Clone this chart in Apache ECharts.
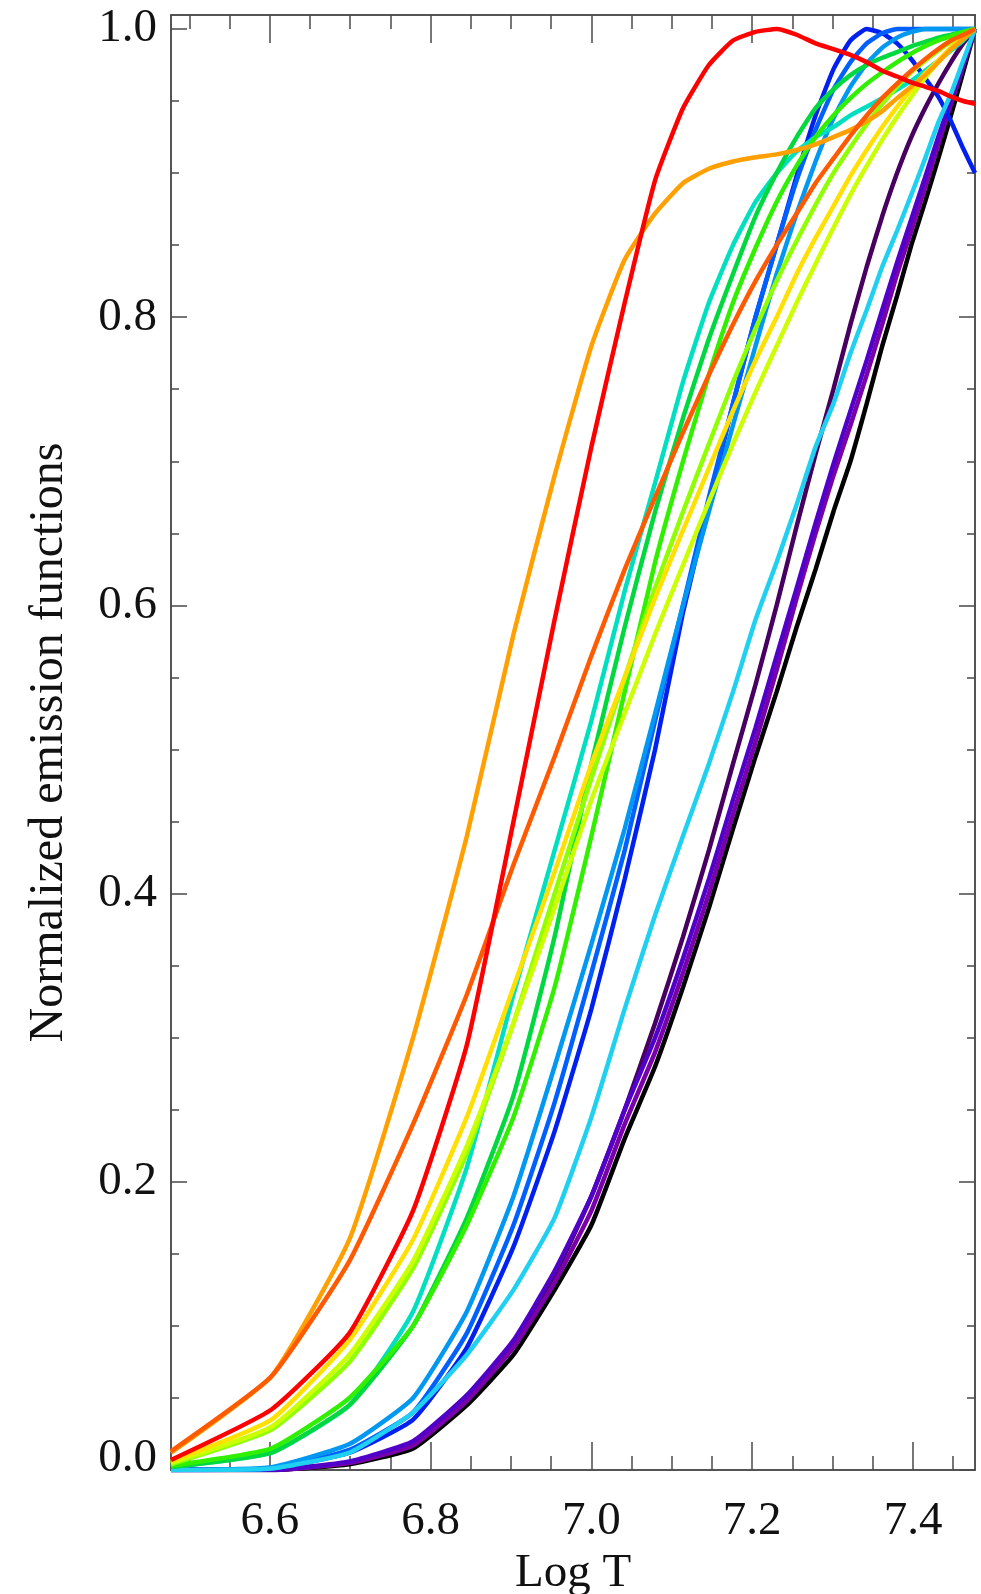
<!DOCTYPE html>
<html><head><meta charset="utf-8">
<script src="https://cdn.jsdelivr.net/npm/echarts@6/dist/echarts.min.js"></script>
<style>html,body{margin:0;padding:0;background:#fff}#c{width:981px;height:1594px}</style>
</head><body><div id="c"></div>
<script>
// x values: log T for T = 3..30 MK
const logT = [6.4771, 6.6021, 6.6990, 6.7782, 6.8451, 6.9031, 6.9542, 7.0000, 7.0414, 7.0792,
  7.1139, 7.1461, 7.1761, 7.2041, 7.2304, 7.2553, 7.2788, 7.3010, 7.3222, 7.3424,
  7.3617, 7.3802, 7.3979, 7.4150, 7.4314, 7.4472, 7.4624, 7.4771];

const xMajorTicks = [6.6, 6.8, 7.0, 7.2, 7.4];
const xMinorTicks = [6.5, 6.55, 6.65, 6.7, 6.75, 6.85, 6.9, 6.95, 7.05, 7.1, 7.15, 7.25, 7.3, 7.35, 7.45];
const yMajorTicks = [0, 0.2, 0.4, 0.6, 0.8, 1.0];
const yMinorTicks = [0.05, 0.1, 0.15, 0.25, 0.3, 0.35, 0.45, 0.5, 0.55, 0.65, 0.7, 0.75, 0.85, 0.9, 0.95];

const black      = [0, 0, 0.004, 0.015, 0.045, 0.08, 0.125, 0.17, 0.23, 0.28, 0.335, 0.39, 0.445, 0.495, 0.54, 0.585, 0.625, 0.665, 0.70, 0.74, 0.78, 0.815, 0.85, 0.88, 0.91, 0.94, 0.97, 1.0];
const darkPurple = [0, 0, 0.005, 0.018, 0.05, 0.088, 0.135, 0.19, 0.25, 0.31, 0.37, 0.43, 0.49, 0.545, 0.60, 0.655, 0.705, 0.75, 0.795, 0.835, 0.87, 0.90, 0.925, 0.945, 0.962, 0.977, 0.99, 1.0];
const purple     = [0, 0, 0.005, 0.017, 0.048, 0.085, 0.13, 0.18, 0.24, 0.29, 0.345, 0.40, 0.455, 0.505, 0.555, 0.605, 0.65, 0.69, 0.725, 0.76, 0.795, 0.83, 0.86, 0.89, 0.92, 0.948, 0.974, 1.0];
const violet     = [0, 0, 0.006, 0.02, 0.052, 0.09, 0.138, 0.19, 0.25, 0.30, 0.355, 0.41, 0.465, 0.515, 0.565, 0.612, 0.657, 0.698, 0.735, 0.77, 0.805, 0.838, 0.868, 0.897, 0.925, 0.951, 0.976, 1.0];
const blue       = [0, 0.001, 0.012, 0.035, 0.085, 0.155, 0.235, 0.32, 0.41, 0.50, 0.595, 0.67, 0.74, 0.80, 0.85, 0.898, 0.94, 0.972, 0.992, 1.0, 0.997, 0.99, 0.979, 0.966, 0.953, 0.936, 0.917, 0.9];
const dodger     = [0, 0.001, 0.014, 0.04, 0.095, 0.17, 0.255, 0.345, 0.43, 0.52, 0.60, 0.675, 0.74, 0.80, 0.85, 0.895, 0.93, 0.958, 0.977, 0.99, 0.997, 1.0, 1.0, 1.0, 1.0, 1.0, 1.0, 1.0];
const lightBlue  = [0, 0.002, 0.018, 0.05, 0.11, 0.19, 0.28, 0.365, 0.445, 0.525, 0.60, 0.665, 0.725, 0.78, 0.83, 0.872, 0.908, 0.938, 0.96, 0.976, 0.987, 0.994, 0.998, 1.0, 1.0, 1.0, 1.0, 1.0];
const cyan       = [0, 0.001, 0.012, 0.04, 0.08, 0.125, 0.175, 0.245, 0.32, 0.385, 0.44, 0.49, 0.54, 0.59, 0.63, 0.67, 0.71, 0.74, 0.775, 0.805, 0.835, 0.86, 0.885, 0.91, 0.935, 0.955, 0.978, 1.0];
const turquoise  = [0.002, 0.012, 0.045, 0.11, 0.21, 0.33, 0.43, 0.52, 0.61, 0.685, 0.755, 0.81, 0.85, 0.88, 0.90, 0.915, 0.925, 0.932, 0.94, 0.946, 0.952, 0.958, 0.964, 0.971, 0.978, 0.985, 0.992, 1.0];
const green      = [0.002, 0.012, 0.045, 0.10, 0.175, 0.26, 0.37, 0.49, 0.585, 0.665, 0.73, 0.785, 0.83, 0.87, 0.90, 0.925, 0.945, 0.958, 0.968, 0.975, 0.98, 0.984, 0.988, 0.991, 0.994, 0.996, 0.998, 1.0];
const green2     = [0.003, 0.015, 0.05, 0.10, 0.17, 0.245, 0.335, 0.44, 0.54, 0.63, 0.70, 0.76, 0.81, 0.848, 0.88, 0.905, 0.925, 0.94, 0.952, 0.962, 0.97, 0.977, 0.983, 0.988, 0.992, 0.995, 0.998, 1.0];
const lightGreen = [0.004, 0.028, 0.075, 0.14, 0.22, 0.31, 0.40, 0.48, 0.55, 0.612, 0.665, 0.712, 0.755, 0.792, 0.825, 0.853, 0.878, 0.90, 0.918, 0.934, 0.948, 0.96, 0.97, 0.978, 0.985, 0.991, 0.996, 1.0];
const yellowGreen= [0.005, 0.03, 0.08, 0.145, 0.225, 0.31, 0.39, 0.465, 0.525, 0.58, 0.628, 0.672, 0.712, 0.748, 0.78, 0.81, 0.837, 0.862, 0.885, 0.905, 0.923, 0.939, 0.953, 0.966, 0.977, 0.986, 0.994, 1.0];
const yellow     = [0.006, 0.035, 0.09, 0.16, 0.245, 0.335, 0.415, 0.49, 0.55, 0.605, 0.652, 0.695, 0.735, 0.77, 0.80, 0.83, 0.855, 0.877, 0.898, 0.916, 0.932, 0.946, 0.958, 0.969, 0.978, 0.987, 0.994, 1.0];
const orange     = [0.012, 0.065, 0.16, 0.30, 0.44, 0.58, 0.69, 0.78, 0.84, 0.872, 0.893, 0.903, 0.908, 0.911, 0.913, 0.916, 0.92, 0.925, 0.93, 0.936, 0.943, 0.952, 0.96, 0.968, 0.977, 0.986, 0.993, 1.0];
const orangeRed  = [0.013, 0.065, 0.145, 0.24, 0.33, 0.42, 0.495, 0.565, 0.625, 0.675, 0.72, 0.76, 0.795, 0.825, 0.85, 0.872, 0.893, 0.91, 0.926, 0.94, 0.952, 0.962, 0.971, 0.979, 0.986, 0.992, 0.996, 1.0];
const red        = [0.007, 0.042, 0.095, 0.18, 0.295, 0.45, 0.59, 0.71, 0.81, 0.895, 0.945, 0.975, 0.992, 0.998, 1.0, 0.996, 0.99, 0.986, 0.982, 0.977, 0.971, 0.967, 0.963, 0.96, 0.957, 0.953, 0.95, 0.948];

const curves = [
  ['black', black, '#000000'],
  ['darkPurple', darkPurple, '#480060'],
  ['purple', purple, '#7a00a8'],
  ['violet', violet, '#5000c8'],
  ['blue', blue, '#0020f0'],
  ['dodger', dodger, '#0060ff'],
  ['lightBlue', lightBlue, '#0098f0'],
  ['cyan', cyan, '#20d0f0'],
  ['turquoise', turquoise, '#00e0c0'],
  ['green', green, '#00d840'],
  ['green2', green2, '#30f000'],
  ['lightGreen', lightGreen, '#90ff00'],
  ['yellowGreen', yellowGreen, '#ccff00'],
  ['yellow', yellow, '#ffe000'],
  ['orange', orange, '#ffa000'],
  ['orangeRed', orangeRed, '#ff5a00'],
  ['red', red, '#ff0000']
];

const FONT = '"Liberation Serif", "Times New Roman", serif';
const XMIN = 6.4771, XMAX = 7.4771, YMIN = 0, YMAX = 1.0097;
const axisColor = '#4a4a4a';
const ls = {color: axisColor, width: 1.5};

function xa(pos, ticks, len, withLabels) {
  const a = {
    type: 'value', min: XMIN, max: XMAX, position: pos,
    axisLine: {show: true, onZero: false, lineStyle: ls},
    axisTick: {show: true, inside: true, length: len, customValues: ticks, lineStyle: ls},
    axisLabel: {show: false},
    splitLine: {show: false}
  };
  if (withLabels) {
    a.axisLabel = {show: true, customValues: ticks, formatter: v => v.toFixed(1),
      fontFamily: FONT, fontSize: 47, color: '#111', margin: 28};
    a.name = 'Log T'; a.nameLocation = 'middle'; a.nameGap = 77;
    a.nameTextStyle = {fontFamily: FONT, fontSize: 47, color: '#111'};
  }
  return a;
}
function ya(pos, ticks, len, labelTicks, mn, mx, showLine) {
  const a = {
    type: 'value', min: mn, max: mx, position: pos,
    axisLine: {show: showLine, onZero: false, lineStyle: ls},
    axisTick: {show: ticks !== null, inside: true, length: len, customValues: ticks || [], lineStyle: ls},
    axisLabel: {show: false},
    splitLine: {show: false}
  };
  if (labelTicks) {
    a.axisLabel = {show: true, customValues: labelTicks, formatter: v => v.toFixed(1),
      fontFamily: FONT, fontSize: 47, color: '#111', margin: 14};
  }
  return a;
}

const yLabelMajor = yMajorTicks.filter(v => v > 0);
const yAxes = [
  ya('left', yMajorTicks, 16, yLabelMajor, YMIN, YMAX, true),
  ya('left', yMinorTicks, 8, null, YMIN, YMAX, true),
  ya('right', yMajorTicks, 16, null, YMIN, YMAX, true),
  ya('right', yMinorTicks, 8, null, YMIN, YMAX, true),
  // label for 0.0 drawn slightly above the bottom axis, as in the original
  ya('left', null, 0, [0], YMIN - 0.008, YMAX - 0.008, false)
];
yAxes[0].name = 'Normalized emission functions';
yAxes[0].nameLocation = 'middle';
yAxes[0].nameGap = 98;
yAxes[0].nameRotate = 90;
yAxes[0].nameTextStyle = {fontFamily: FONT, fontSize: 48, color: '#111'};

const option = {
  animation: false,
  backgroundColor: '#ffffff',
  grid: {left: 171, right: 6, top: 15, bottom: 124, containLabel: false, outerBoundsMode: 'none'},
  xAxis: [
    xa('bottom', xMajorTicks, 28, true),
    xa('bottom', xMinorTicks, 14, false),
    xa('top', xMajorTicks, 28, false),
    xa('top', xMinorTicks, 14, false)
  ],
  yAxis: yAxes,
  series: curves.map(([name, vals, color]) => ({
    name: name, type: 'line', xAxisIndex: 0, yAxisIndex: 0,
    showSymbol: false, symbol: 'none', smooth: 0.15,
    lineStyle: {color: color, width: 4.5},
    itemStyle: {color: color},
    data: logT.map((x, i) => [x, vals[i]])
  }))
};
const chart = echarts.init(document.getElementById('c'), null, {renderer: 'canvas'});
chart.setOption(option);
</script></body></html>
